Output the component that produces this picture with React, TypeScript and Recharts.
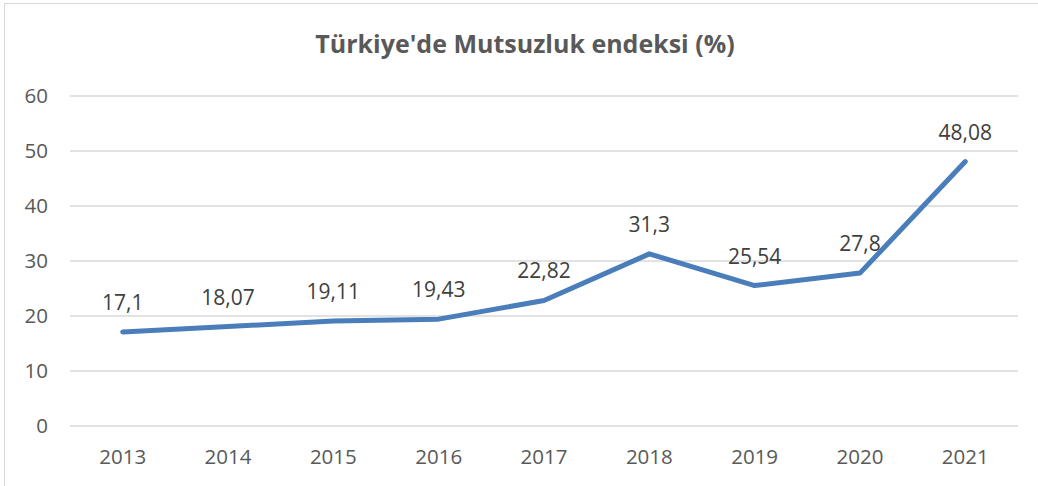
import { CartesianGrid, LabelList, Line, LineChart, XAxis, YAxis } from 'recharts';

const years = ['2013', '2014', '2015', '2016', '2017', '2018', '2019', '2020', '2021'];
const unhappiness = [17.1, 18.07, 19.11, 19.43, 22.82, 31.3, 25.54, 27.8, 48.08];
const yTicks = [0, 10, 20, 30, 40, 50, 60];

const data = years.map((year, i) => ({ year, value: unhappiness[i] }));

const FONT = '"Open Sans", sans-serif';

export default function App() {
  return (
    <div
      style={{
        position: 'absolute',
        left: 0,
        top: 0,
        width: 1038,
        height: 486,
        background: '#fff',
        fontFamily: FONT,
        overflow: 'hidden',
      }}
    >
      {/* border, only top and left visible in the crop */}
      <div
        style={{
          position: 'absolute',
          left: 4,
          top: 3,
          width: 1100,
          height: 600,
          borderLeft: '1px solid #d9d9d9',
          borderTop: '1px solid #d9d9d9',
        }}
      />

      {/* TITLE */}
      <div
        style={{
          position: 'absolute',
          left: 0,
          top: 26,
          width: 1050,
          textAlign: 'center',
          fontSize: 25,
          fontWeight: 700,
          color: '#595959',
        }}
      >
        Türkiye'de Mutsuzluk endeksi (%)
      </div>

      {/* CHART */}
      <LineChart
        width={1038}
        height={486}
        data={data}
        margin={{ top: 96, right: 20, bottom: 20, left: 0 }}
        style={{ position: 'absolute', left: 0, top: 0 }}
      >
        <CartesianGrid vertical={false} stroke="#d9d9d9" strokeWidth={1.5} />
        <XAxis
          dataKey="year"
          axisLine={false}
          tickLine={false}
          tickSize={0}
          tickMargin={23}
          height={40}
          padding={{ left: 52.7, right: 52.7 }}
          tick={{ fontSize: 20.5, fill: '#595959', fontFamily: FONT }}
          interval={0}
        />
        <YAxis
          domain={[0, 60]}
          ticks={yTicks}
          axisLine={false}
          tickLine={false}
          tickSize={0}
          tickMargin={22}
          width={70}
          tick={{ fontSize: 20.5, fill: '#595959', fontFamily: FONT }}
        />
        <Line
          type="linear"
          dataKey="value"
          stroke="#4A7EBB"
          strokeWidth={5}
          strokeLinecap="round"
          strokeLinejoin="round"
          dot={false}
          activeDot={false}
          isAnimationActive={false}
        >
          <LabelList
            dataKey="value"
            position="top"
            offset={22}
            formatter={(v: number) => String(v).replace('.', ',')}
            style={{ fontSize: 21, fill: '#404040', fontFamily: FONT }}
          />
        </Line>
      </LineChart>
    </div>
  );
}
